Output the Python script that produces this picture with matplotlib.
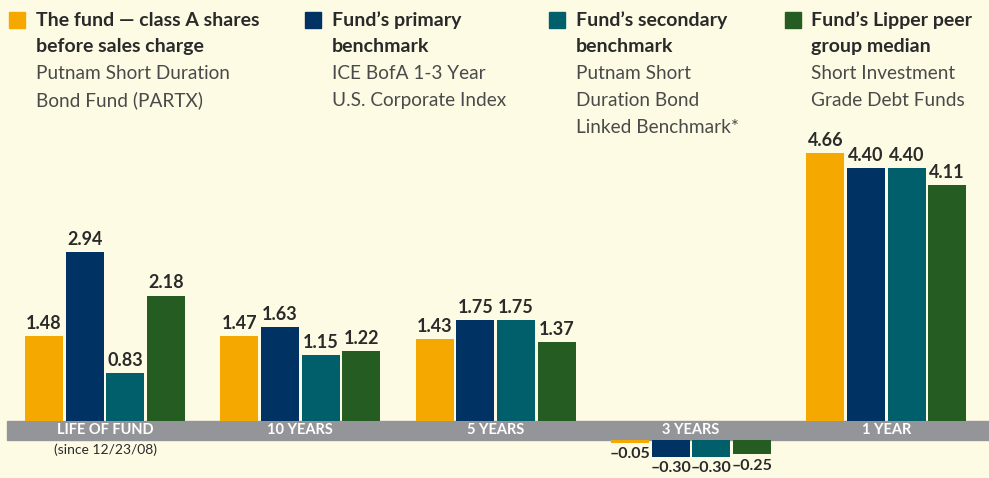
import matplotlib.pyplot as plt
import matplotlib.patches as mpatches
import numpy as np

# periods (groups) and series values
periods = ['LIFE OF FUND', '10 YEARS', '5 YEARS', '3 YEARS', '1 YEAR']
fund = [1.48, 1.47, 1.43, -0.05, 4.66]
primary = [2.94, 1.63, 1.75, -0.30, 4.40]
secondary = [0.83, 1.15, 1.75, -0.30, 4.40]
lipper = [2.18, 1.22, 1.37, -0.25, 4.11]

series = [fund, primary, secondary, lipper]
colors = ['#F5A800', '#003263', '#005F6B', '#255C22']

legend_bold = [['The fund \u2014 class A shares', 'before sales charge'],
               ['Fund\u2019s primary', 'benchmark'],
               ['Fund\u2019s secondary', 'benchmark'],
               ['Fund\u2019s Lipper peer', 'group median']]
legend_sub = [['Putnam Short Duration', 'Bond Fund (PARTX)'],
              ['ICE BofA 1-3 Year', 'U.S. Corporate Index'],
              ['Putnam Short', 'Duration Bond', 'Linked Benchmark*'],
              ['Short Investment', 'Grade Debt Funds']]

bg = '#FEFBE4'
dark = '#2A2A2A'
W, H = 989, 478
plt.rcParams['font.family'] = ['Lato', 'DejaVu Sans']

fig = plt.figure(figsize=(W / 100, H / 100), dpi=100, facecolor=bg)
ax = fig.add_axes([0, 0, 1, 1])
ax.set_facecolor(bg)

# pixel geometry helpers
ppu = 57.5          # pixels per unit
zero_px = 421       # y pixel of zero line
band = 19 / ppu     # height of gray band in data units
ax.set_ylim(-(H - zero_px) / ppu, zero_px / ppu)
gstep = 195.3
g0 = 105
ax.set_xlim(-g0 / gstep, (W - g0) / gstep)
ax.axis('off')

ax.axhspan(-band, 0, xmin=7 / W, xmax=1, color='#939598', zorder=1)

step = 40.6 / gstep
width = 38 / gstep
x = np.arange(len(periods))
for j, (vals, c) in enumerate(zip(series, colors)):
    xs = x + (j - 1.5) * step
    for xi, v in zip(xs, vals):
        if v >= 0:
            ax.bar(xi, v, width, bottom=0, color=c, zorder=2)
            ax.annotate(f'{v:.2f}', (xi, v), xytext=(0, 3), textcoords='offset points',
                        ha='center', va='bottom', fontsize=13, fontweight='bold', color=dark)
        else:
            ax.bar(xi, v, width, bottom=-band, color=c, zorder=2)
            ax.annotate(f'\u2013{abs(v):.2f}', (xi, v - band), xytext=(0, -3),
                        textcoords='offset points', ha='center', va='top',
                        fontsize=11.5, fontweight='bold', color=dark)

for xi, p in zip(x, periods):
    ax.text(xi, -band / 2, p, ha='center', va='center', color='white',
            fontsize=10.5, fontweight='bold', zorder=3)
ax.text(x[0], -29 / ppu, '(since 12/23/08)', ha='center', va='center',
        color=dark, fontsize=10)

# legend, drawn in figure pixel space
sq_x = [9, 305, 549, 785]
txt_x = [36, 332, 576, 811]
for k in range(4):
    fig.patches.append(mpatches.Rectangle((sq_x[k] / W, 1 - 28 / H), 16 / W, 16 / H,
                                          transform=fig.transFigure, color=colors[k]))
    y = 20
    for line in legend_bold[k]:
        fig.text(txt_x[k] / W, 1 - y / H, line, ha='left', va='center',
                 fontsize=14, fontweight='bold', color=dark)
        y += 26.8
    for line in legend_sub[k]:
        fig.text(txt_x[k] / W, 1 - y / H, line, ha='left', va='center',
                 fontsize=13.7, color='#4A4A4A')
        y += 26.8

fig.savefig('out.png', dpi=100, facecolor=bg)
